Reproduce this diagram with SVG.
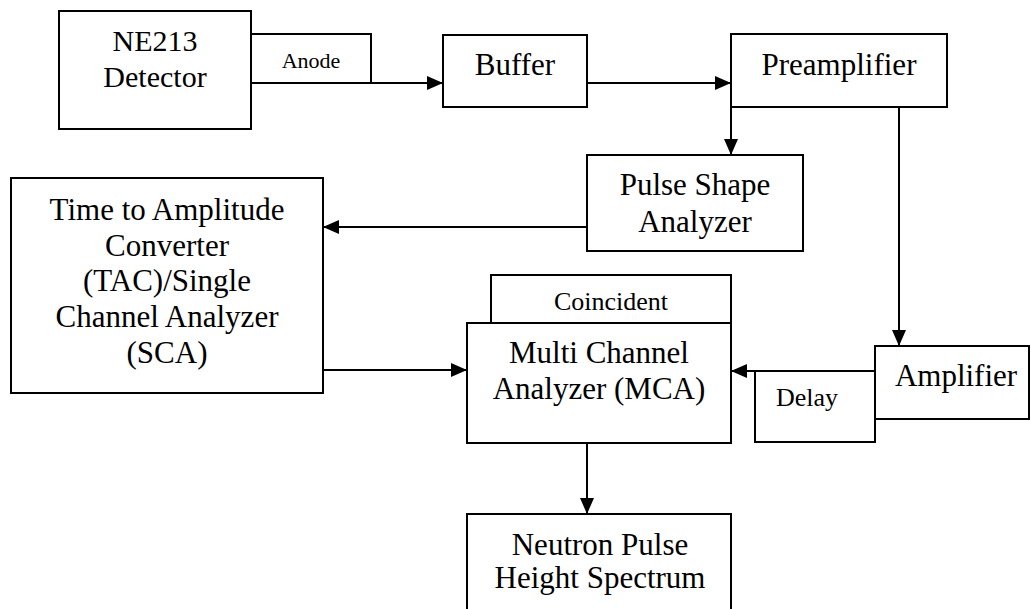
<svg xmlns="http://www.w3.org/2000/svg" width="1031" height="609" viewBox="0 0 1031 609">
<style>
.box{fill:#fff;stroke:#000;stroke-width:2}
.t{font-family:"Liberation Serif","Times New Roman",serif;font-size:31px;fill:#000;text-anchor:middle}
.s{font-family:"Liberation Serif","Times New Roman",serif;font-size:26px;fill:#000;text-anchor:middle}
.c{fill:none;stroke:#000;stroke-width:2}
</style>
<defs>
<marker id="ah" markerUnits="userSpaceOnUse" markerWidth="16" markerHeight="14" refX="16" refY="7" orient="auto">
<path d="M0,0 L16,7 L0,14 z" fill="#000"/>
</marker>
</defs>
<rect width="1031" height="609" fill="#fff"/>
<g id="ne213">
<rect class="box" x="59" y="11" width="192" height="118"/>
<text class="t" x="155" y="51" style="font-size:30px">NE213</text>
<text class="t" x="155" y="87" style="font-size:30px">Detector</text>
</g>
<g id="anode">
<rect class="box" x="251" y="34" width="120" height="49"/>
<text class="s" x="311" y="68" style="font-size:22px">Anode</text>
</g>
<g id="buffer">
<rect class="box" x="443" y="35" width="144" height="72"/>
<text class="t" x="515" y="75">Buffer</text>
</g>
<g id="preamplifier">
<rect class="box" x="731" y="34" width="216" height="73"/>
<text class="t" x="839" y="75">Preamplifier</text>
</g>
<g id="psa">
<rect class="box" x="587" y="155" width="216" height="96"/>
<text class="t" x="695" y="195">Pulse Shape</text>
<text class="t" x="695" y="232">Analyzer</text>
</g>
<g id="tac">
<rect class="box" x="11" y="178" width="312" height="215"/>
<text class="t" x="167" y="220">Time to Amplitude</text>
<text class="t" x="167" y="256">Converter</text>
<text class="t" x="167" y="291">(TAC)/Single</text>
<text class="t" x="167" y="327">Channel Analyzer</text>
<text class="t" x="167" y="363">(SCA)</text>
</g>
<g id="coincident">
<rect class="box" x="491" y="275" width="240" height="48"/>
<text class="s" x="611" y="310">Coincident</text>
</g>
<g id="mca">
<rect class="box" x="467" y="323" width="264" height="120"/>
<text class="t" x="599" y="363">Multi Channel</text>
<text class="t" x="599" y="399">Analyzer (MCA)</text>
</g>
<g id="delay">
<rect class="box" x="755" y="371" width="120" height="71"/>
<text class="s" x="807" y="406">Delay</text>
</g>
<g id="amplifier">
<rect class="box" x="875" y="346" width="154" height="73"/>
<text class="t" x="956" y="386">Amplifier</text>
</g>
<g id="spectrum">
<rect class="box" x="467" y="514" width="264" height="110"/>
<text class="t" x="600" y="555">Neutron Pulse</text>
<text class="t" x="600" y="588">Height Spectrum</text>
</g>
<g id="connectors">
<line class="c" x1="371" y1="83" x2="443" y2="83" marker-end="url(#ah)"/>
<line class="c" x1="587" y1="83" x2="731" y2="83" marker-end="url(#ah)"/>
<line class="c" x1="731" y1="107" x2="731" y2="155" marker-end="url(#ah)"/>
<line class="c" x1="899" y1="107" x2="899" y2="346" marker-end="url(#ah)"/>
<line class="c" x1="587" y1="227" x2="323" y2="227" marker-end="url(#ah)"/>
<line class="c" x1="323" y1="370" x2="467" y2="370" marker-end="url(#ah)"/>
<line class="c" x1="875" y1="371" x2="731" y2="371" marker-end="url(#ah)"/>
<line class="c" x1="587" y1="443" x2="587" y2="514" marker-end="url(#ah)"/>
</g>
</svg>
